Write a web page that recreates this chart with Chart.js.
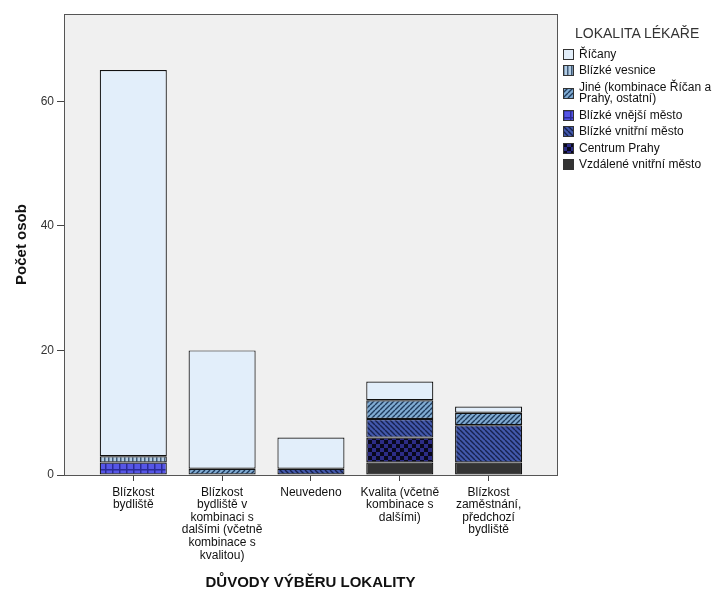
<!DOCTYPE html>
<html>
<head>
<meta charset="utf-8">
<script src="https://cdn.jsdelivr.net/npm/chart.js@4.4.1/dist/chart.umd.min.js"></script>
<style>
  html, body { margin: 0; padding: 0; background: #fff; }
  #wrap { position: relative; width: 722px; height: 592px; }
  #chart { position: absolute; left: 0; top: 0; }
  #legend { position: absolute; left: 563px; top: 24px; font-family: "Liberation Sans", Arial, sans-serif; color: #111; }
  #legend .ttl { font-size: 14px; color: #333; margin-left: 12px; height: 22px; line-height: 18px; }
  #legend .row { display: flex; align-items: center; height: 16.5px; font-size: 12px; line-height: 11px; }
  #legend .row.two { height: 28px; }
  #legend canvas { width: 11px; height: 11px; margin-right: 5px; box-sizing: border-box; flex: none; }
</style>
</head>
<body>
<div id="wrap">
  <canvas id="chart" width="722" height="592"></canvas>
  <div id="legend"></div>
</div>
<script>
/* ─── Data ───────────────────────────────────────────────────────────────── */
const CATEGORIES = [
  ['Blízkost', 'bydliště'],
  ['Blízkost', 'bydliště v', 'kombinaci s', 'dalšími (včetně', 'kombinace s', 'kvalitou)'],
  ['Neuvedeno'],
  ['Kvalita (včetně', 'kombinace s', 'dalšími)'],
  ['Blízkost', 'zaměstnání,', 'předchozí', 'bydliště']
];

// stacked bottom -> top
const SERIES_NAMES = [
  'Vzdálené vnitřní město',
  'Centrum Prahy',
  'Blízké vnitřní město',
  'Blízké vnější město',
  'Jiné (kombinace Říčan a Prahy, ostatní)',
  'Blízké vesnice',
  'Říčany'
];

const VZDALENE  = [0, 0, 0, 2, 2];
const CENTRUM   = [0, 0, 0, 4, 0];
const VNITRNI   = [0, 0, 1, 3, 6];
const VNEJSI    = [2, 0, 0, 0, 0];
const JINE      = [0, 1, 0, 3, 2];
const VESNICE   = [1, 0, 0, 0, 0];
const RICANY    = [62, 19, 5, 3, 1];
const SERIES_VALUES = [VZDALENE, CENTRUM, VNITRNI, VNEJSI, JINE, VESNICE, RICANY];

const Y_TICKS = [0, 20, 40, 60];

/* ─── Fills ──────────────────────────────────────────────────────────────── */
const STYLES = [
  { kind: 'solid', bg: '#333333' },
  { kind: 'check', bg: '#2c2c86', fg: '#08081c' },
  { kind: 'back',  bg: '#4258ab', fg: '#16214e' },
  { kind: 'grid',  bg: '#5656e6', fg: '#2a2a96' },
  { kind: 'fwd',   bg: '#80abd2', fg: '#1e3a5c' },
  { kind: 'vline', bg: '#b4cde3', fg: '#3e5a7a' },
  { kind: 'solid', bg: '#e2eefa' }
];

function makeFill(ctx, st) {
  if (st.kind === 'solid') return st.bg;
  const c = document.createElement('canvas');
  const size = { check: 8, back: 5, fwd: 5, grid: 7, vline: 4 }[st.kind];
  c.width = size; c.height = size;
  const g = c.getContext('2d');
  g.fillStyle = st.bg;
  g.fillRect(0, 0, size, size);
  g.fillStyle = st.fg;
  g.strokeStyle = st.fg;
  g.lineWidth = 1.4;
  if (st.kind === 'check') {
    g.fillRect(0, 0, 4, 4);
    g.fillRect(4, 4, 4, 4);
  } else if (st.kind === 'vline') {
    g.fillRect(0, 0, 1.5, size);
  } else if (st.kind === 'grid') {
    g.fillRect(0, 0, 1.5, size);
    g.fillRect(0, 0, size, 1.5);
  } else {
    g.beginPath();
    for (let k = -1; k <= 1; k++) {
      if (st.kind === 'fwd') {
        g.moveTo(k * size, size); g.lineTo(k * size + size, 0);
      } else {
        g.moveTo(k * size, 0); g.lineTo(k * size + size, size);
      }
    }
    g.stroke();
  }
  return ctx.createPattern(c, 'repeat');
}

/* ─── Plot frame ─────────────────────────────────────────────────────────── */
const framePlugin = {
  id: 'frame',
  beforeDatasetsDraw(chart) {
    const { ctx, chartArea: a } = chart;
    ctx.save();
    ctx.fillStyle = '#f0f0f0';
    ctx.fillRect(a.left, a.top, a.right - a.left, a.bottom - a.top);
    ctx.restore();
  },
  afterDatasetsDraw(chart) {
    const { ctx, chartArea: a } = chart;
    ctx.save();
    ctx.strokeStyle = '#555';
    ctx.lineWidth = 1;
    ctx.strokeRect(Math.round(a.left) + 0.5, Math.round(a.top) + 0.5,
                   Math.round(a.right - a.left), Math.round(a.bottom - a.top));
    ctx.restore();
  }
};

/* ─── Render ─────────────────────────────────────────────────────────────── */
const FONT = 'Liberation Sans, Arial, sans-serif';
const canvas = document.getElementById('chart');
const c2d = canvas.getContext('2d');

new Chart(canvas, {
  type: 'bar',
  data: {
    datasets: SERIES_NAMES.map((name, s) => ({
      label: name,
      data: SERIES_VALUES[s].map((v, i) => ({ x: i, y: v || null })),
      backgroundColor: makeFill(c2d, STYLES[s]),
      borderColor: '#111',
      borderWidth: 1.2,
      borderSkipped: false,
      barPercentage: 0.755,
      categoryPercentage: 1
    }))
  },
  options: {
    responsive: false,
    animation: false,
    layout: { padding: { top: 14, right: 165, left: 0, bottom: 0 } },
    plugins: { legend: { display: false }, tooltip: { enabled: false } },
    scales: {
      x: {
        type: 'linear',
        stacked: true,
        bounds: 'data',
        offset: false,
        min: -0.78,
        max: 4.77,
        afterBuildTicks: s => { s.ticks = CATEGORIES.map((_, i) => ({ value: i })); },
        afterFit: s => { s.height = 117; },
        ticks: {
          autoSkip: false,
          includeBounds: false,
          maxRotation: 0,
          padding: 5,
          color: '#111',
          font: { family: FONT, size: 12, lineHeight: 1.05 },
          callback: v => CATEGORIES[v]
        },
        grid: { offset: false, drawOnChartArea: false, drawTicks: true, tickLength: 6, color: '#444' },
        border: { display: true, color: '#555' },
        title: {
          display: true,
          text: 'DŮVODY VÝBĚRU LOKALITY',
          color: '#111',
          font: { family: FONT, size: 15, weight: 'bold' },
          padding: { top: 5, bottom: 0 }
        }
      },
      y: {
        stacked: true,
        bounds: 'data',
        min: 0,
        max: 74,
        afterBuildTicks: s => { s.ticks = Y_TICKS.map(v => ({ value: v })); },
        afterFit: s => { s.width = 64; },
        ticks: { padding: 3, color: '#333', font: { family: FONT, size: 12 } },
        grid: { drawOnChartArea: false, drawTicks: true, tickLength: 7, color: '#444' },
        border: { display: true, color: '#555' },
        title: {
          display: true,
          text: 'Počet osob',
          color: '#111',
          font: { family: FONT, size: 15, weight: 'bold' },
          padding: { top: 13, bottom: 0 }
        }
      }
    }
  },
  plugins: [framePlugin]
});

/* ─── Legend ─────────────────────────────────────────────────────────────── */
const LEGEND_TEXT = {
  'Jiné (kombinace Říčan a Prahy, ostatní)': 'Jiné (kombinace Říčan a<br>Prahy, ostatní)'
};
const legend = document.getElementById('legend');
legend.innerHTML = '<div class="ttl">LOKALITA LÉKAŘE</div>';
for (let s = SERIES_NAMES.length - 1; s >= 0; s--) {
  const row = document.createElement('div');
  const name = SERIES_NAMES[s];
  row.className = 'row' + (LEGEND_TEXT[name] ? ' two' : '');
  const sw = document.createElement('canvas');
  sw.width = 11; sw.height = 11;
  const g = sw.getContext('2d');
  g.fillStyle = makeFill(g, STYLES[s]);
  g.fillRect(0, 0, 11, 11);
  g.strokeStyle = '#333';
  g.strokeRect(0.5, 0.5, 10, 10);
  row.appendChild(sw);
  const t = document.createElement('span');
  t.innerHTML = LEGEND_TEXT[name] || name;
  row.appendChild(t);
  legend.appendChild(row);
}
</script>
</body>
</html>
